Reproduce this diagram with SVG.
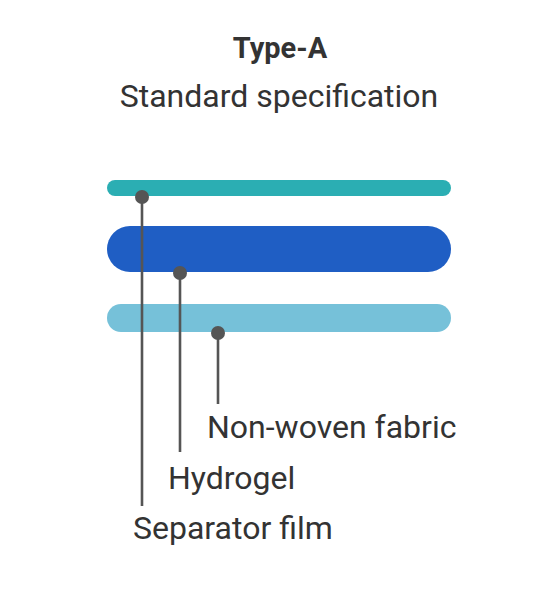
<svg xmlns="http://www.w3.org/2000/svg" width="558" height="590" viewBox="0 0 558 590">
<style>
text{font-family:Roboto,"Liberation Sans",sans-serif;fill:#333333}
.t{font-size:29px;font-weight:bold}
.s{font-size:32px}
.l{font-size:32px}
.ln{stroke:#555555;stroke-width:2.6;fill:none}
.dot{fill:#555555}
</style>
<rect width="558" height="590" fill="#ffffff"/>
<g id="title">
<text class="t" x="280" y="58" text-anchor="middle">Type-A</text>
<text class="s" x="279" y="107" text-anchor="middle">Standard specification</text>
</g>
<g id="separator-film">
<rect x="107" y="180" width="344" height="16" rx="8" fill="#2BAEB3"/>
</g>
<g id="hydrogel">
<rect x="107" y="226" width="344" height="46" rx="23" fill="#1F5EC4"/>
</g>
<g id="non-woven-fabric">
<rect x="107" y="304" width="344" height="28" rx="14" fill="#76C1D9"/>
</g>
<g id="connectors">
<line class="ln" x1="142" y1="197" x2="142" y2="506"/>
<circle class="dot" cx="142" cy="197" r="7"/>
<line class="ln" x1="180" y1="273" x2="180" y2="452"/>
<circle class="dot" cx="180" cy="273" r="7"/>
<line class="ln" x1="218" y1="333" x2="218" y2="404"/>
<circle class="dot" cx="218" cy="333" r="7"/>
</g>
<g id="labels">
<text class="l" x="207" y="438">Non-woven fabric</text>
<text class="l" x="168" y="489">Hydrogel</text>
<text class="l" x="133" y="539">Separator film</text>
</g>
</svg>
